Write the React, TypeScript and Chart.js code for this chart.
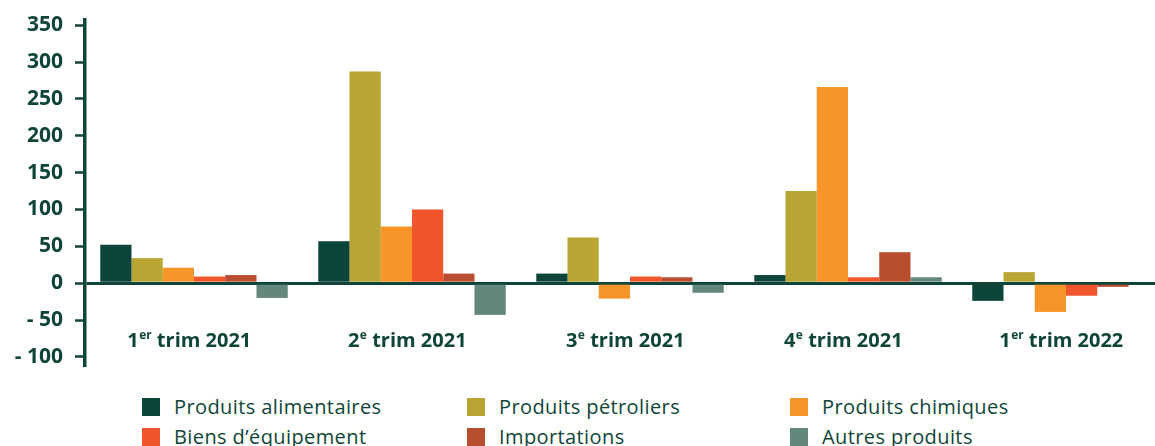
import React, { useEffect, useRef } from "react";
import { Chart, registerables } from "chart.js";

Chart.register(...registerables);

// ---- data ----
const categories = ["1er trim 2021", "2e trim 2021", "3e trim 2021", "4e trim 2021", "1er trim 2022"];
const seriesNames = [
  "Produits alimentaires",
  "Produits pétroliers",
  "Produits chimiques",
  "Biens d’équipement",
  "Importations",
  "Autres produits",
];
const produitsAlimentaires = [52, 57, 13, 11, -24];
const produitsPetroliers = [34, 287, 62, 125, 15];
const produitsChimiques = [21, 77, -21, 266, -39];
const biensEquipement = [9, 100, 9, 8, -17];
const importations = [11, 13, 8, 42, -5];
const autresProduits = [-20, -43, -13, 8, 0];
const yTickValues = [-100, -50, 0, 50, 100, 150, 200, 250, 300, 350];

const seriesValues = [
  produitsAlimentaires,
  produitsPetroliers,
  produitsChimiques,
  biensEquipement,
  importations,
  autresProduits,
];
const seriesColors = ["#0E453A", "#B9A533", "#F7952A", "#F0552C", "#B84D2F", "#62877D"];

const TEXT = "#0f4539";
const FONT = "'Open Sans', sans-serif";

const categoryLabels = {
  id: "categoryLabels",
  afterDraw(chart: any) {
    const { ctx, scales } = chart;
    const xs = scales.x;
    const ys = scales.y;
    const base = ys.getPixelForValue(-87);
    ctx.save();
    ctx.fillStyle = TEXT;
    ctx.textBaseline = "alphabetic";
    ctx.textAlign = "left";
    categories.forEach((label, i) => {
      const m = label.match(/^(\d+)([a-z]+)\s(.*)$/);
      const num = m ? m[1] : label;
      const sup = m ? m[2] : "";
      const rest = m ? " " + m[3] : "";
      ctx.font = `bold 20px ${FONT}`;
      const wNum = ctx.measureText(num).width;
      const wRest = ctx.measureText(rest).width;
      ctx.font = `bold 12px ${FONT}`;
      const wSup = ctx.measureText(sup).width;
      let x = xs.getPixelForValue(i) - 5 - (wNum + wSup + wRest) / 2;
      ctx.font = `bold 20px ${FONT}`;
      ctx.fillText(num, x, base);
      x += wNum + 0.5;
      ctx.font = `bold 12px ${FONT}`;
      ctx.fillText(sup, x, base - 8);
      x += wSup;
      ctx.font = `bold 20px ${FONT}`;
      ctx.fillText(rest, x, base);
    });
    ctx.restore();
  },
};

export default function App() {
  const ref = useRef<HTMLCanvasElement | null>(null);

  useEffect(() => {
    if (!ref.current) return;
    const chart = new Chart(ref.current, {
      type: "bar",
      data: {
        labels: categories,
        datasets: seriesNames.map((name, i) => ({
          label: name,
          data: seriesValues[i],
          backgroundColor: seriesColors[i],
          borderWidth: 0,
          barPercentage: 1,
          categoryPercentage: 0.86,
        })),
      },
      options: {
        animation: false,
        responsive: false,
        devicePixelRatio: 1,
        layout: { padding: { top: 20, right: 3, bottom: 15, left: 0 } },
        plugins: { legend: { display: false }, tooltip: { enabled: false } },
        scales: {
          x: { display: false },
          y: {
            min: -111,
            max: 357,
            z: 1,
            afterBuildTicks: (s: any) => {
              s.ticks = yTickValues.map((v) => ({ value: v }));
            },
            afterFit: (s: any) => {
              s.width = 85;
              s.paddingTop = 0;
              s.paddingBottom = 0;
            },
            border: { display: true, color: TEXT, width: 3.5 },
            grid: {
              drawOnChartArea: true,
              color: (c: any) => (c.tick && c.tick.value === 0 ? TEXT : "rgba(0,0,0,0)"),
              lineWidth: 3,
              tickLength: 10,
              tickColor: TEXT,
              tickWidth: 2.5,
            },
            ticks: {
              padding: 12,
              color: TEXT,
              font: { family: FONT, size: 21, weight: "bold" },
              callback: (v: any) => (v < 0 ? "- " + Math.abs(v) : String(v)),
            },
          },
        },
      },
      plugins: [categoryLabels],
    });
    return () => chart.destroy();
  }, []);

  const legendCols = [142, 467, 790];
  const legendRows = [398, 428];

  return (
    <div
      style={{
        position: "fixed",
        left: 0,
        top: 0,
        width: 1155,
        height: 446,
        overflow: "hidden",
        background: "#ffffff",
      }}
    >
      <canvas ref={ref} width={1178} height={380} style={{ display: "block", position: "absolute", left: 0, top: 0 }} />
      {seriesNames.map((name, i) => (
        <div
          key={name}
          style={{
            position: "absolute",
            left: legendCols[i % 3],
            top: legendRows[Math.floor(i / 3)],
            height: 18,
            display: "flex",
            alignItems: "center",
            fontFamily: FONT,
            fontSize: 20,
            letterSpacing: "0.4px",
            color: TEXT,
            whiteSpace: "nowrap",
          }}
        >
          <span style={{ display: "inline-block", width: 18, height: 18, background: seriesColors[i], marginRight: 14 }} />
          <span style={{ lineHeight: "18px" }}>{name}</span>
        </div>
      ))}
    </div>
  );
}
